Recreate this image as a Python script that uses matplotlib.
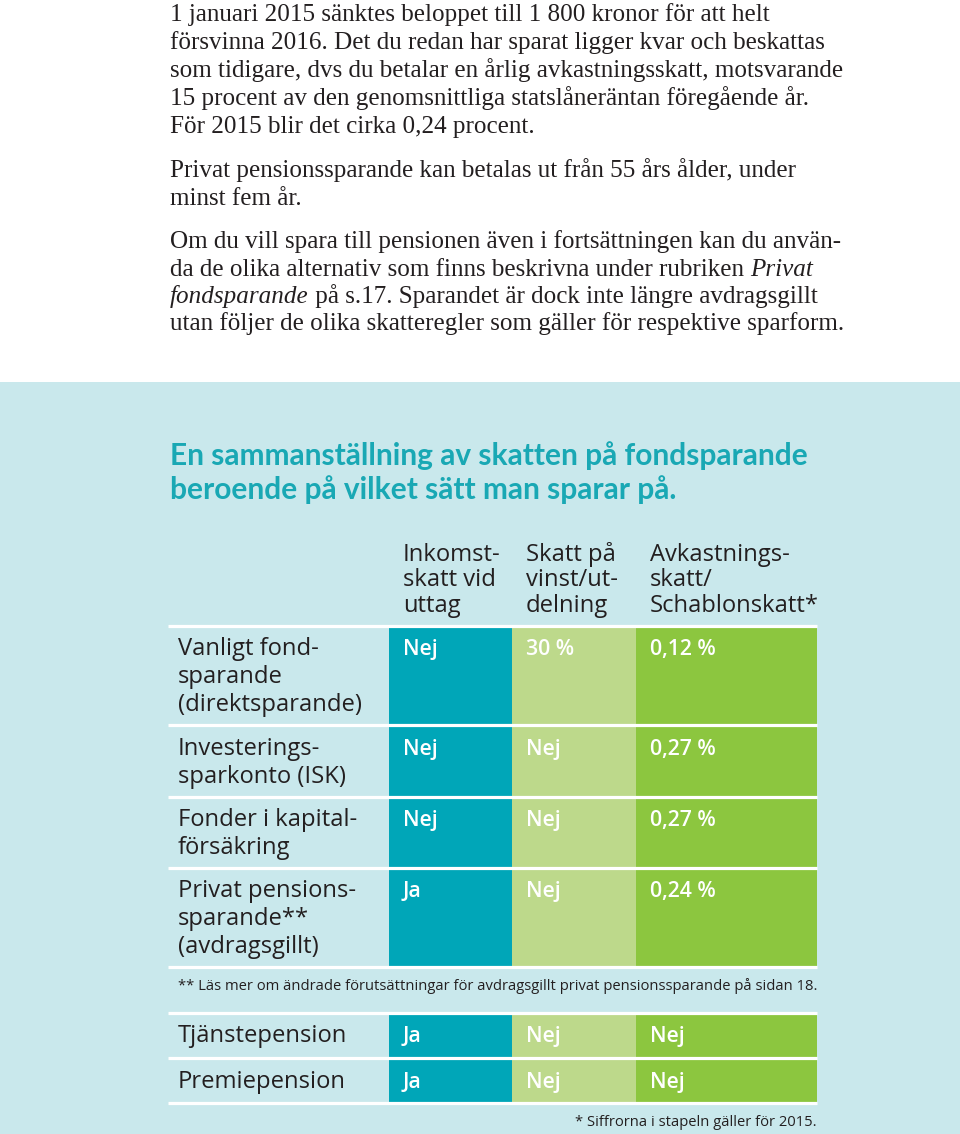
import matplotlib
matplotlib.use("Agg")
import matplotlib.pyplot as plt
from matplotlib.patches import Rectangle

# ---------------- data ----------------
intro_paragraphs = [
    [[("1 januari 2015 sänktes beloppet till 1 800 kronor för att helt", "normal")],
     [("försvinna 2016. Det du redan har sparat ligger kvar och beskattas", "normal")],
     [("som tidigare, dvs du betalar en årlig avkastningsskatt, motsvarande", "normal")],
     [("15 procent av den genomsnittliga statslåneräntan föregående år.", "normal")],
     [("För 2015 blir det cirka 0,24 procent.", "normal")]],
    [[("Privat pensionssparande kan betalas ut från 55 års ålder, under", "normal")],
     [("minst fem år.", "normal")]],
    [[("Om du vill spara till pensionen även i fortsättningen kan du använ-", "normal")],
     [("da de olika alternativ som finns beskrivna under rubriken ", "normal"), ("Privat", "italic")],
     [("fondsparande", "italic"), (" på s.17. Sparandet är dock inte längre avdragsgillt", "normal")],
     [("utan följer de olika skatteregler som gäller för respektive sparform.", "normal")]],
]
title_lines = ["En sammanställning av skatten på fondsparande",
               "beroende på vilket sätt man sparar på."]

col_headers = [["Inkomst-", "skatt vid", "uttag"],
               ["Skatt på", "vinst/ut-", "delning"],
               ["Avkastnings-", "skatt/", "Schablonskatt*"]]

row_labels = [["Vanligt fond-", "sparande", "(direktsparande)"],
              ["Investerings-", "sparkonto (ISK)"],
              ["Fonder i kapital-", "försäkring"],
              ["Privat pensions-", "sparande**", "(avdragsgillt)"]]
inkomstskatt = ["Nej", "Nej", "Nej", "Ja"]
skatt_vinst = ["30 %", "Nej", "Nej", "Nej"]
avkastningsskatt = ["0,12 %", "0,27 %", "0,27 %", "0,24 %"]

pension_labels = [["Tjänstepension"], ["Premiepension"]]
pension_inkomstskatt = ["Ja", "Ja"]
pension_skatt_vinst = ["Nej", "Nej"]
pension_avkastningsskatt = ["Nej", "Nej"]

footnote_2 = "** Läs mer om ändrade förutsättningar för avdragsgillt privat pensionssparande på sidan 18."
footnote_1 = "* Siffrorna i stapeln gäller för 2015."

# ---------------- style ----------------
W, H = 960, 1134
BG_BOX = "#c9e8ec"
TEAL = "#00a6b8"
LIGHT_GREEN = "#bdd98b"
GREEN = "#8cc63f"
TITLE_COL = "#19a8b4"
TXT = "#231f20"
SERIF = ["Liberation Serif", "DejaVu Serif"]
SANS = ["Open Sans", "DejaVu Sans"]
SANS_T = ["Lato", "DejaVu Sans"]

fig = plt.figure(figsize=(W / 100, H / 100), dpi=100)
ax = fig.add_axes([0, 0, 1, 1])
ax.set_xlim(0, W)
ax.set_ylim(H, 0)
ax.axis("off")
renderer = fig.canvas.get_renderer()


def width_px(text, size, family, weight="normal", style="normal"):
    t = ax.text(0, 0, text, fontsize=size, family=family, weight=weight, style=style)
    w = t.get_window_extent(renderer).width
    t.remove()
    return w


def fit(text, target, family, weight="normal", style="normal"):
    return 20 * target / width_px(text, 20, family, weight, style)


# font sizes fitted to widths measured on the reference
fs_par = fit(intro_paragraphs[0][0][0][0], 599, SERIF)
fs_title = fit(title_lines[0], 637, SANS_T, "bold")
fs_tab = fit("(direktsparande)", 182, SANS)
fs_cell = fit("0,12 %", 66, SANS, "semibold")
fs_foot = fit(footnote_2, 637, SANS)

# ---------------- intro text ----------------
par_base = [[21, 49, 77, 105, 133], [177, 205], [248, 276, 303, 330]]
for para, bases in zip(intro_paragraphs, par_base):
    for segs, y in zip(para, bases):
        x = 170
        for s, st in segs:
            t = ax.text(x, y, s, fontsize=fs_par, family=SERIF, style=st,
                        color=TXT, va="baseline", ha="left")
            x += t.get_window_extent(renderer).width

# ---------------- box ----------------
ax.add_patch(Rectangle((0, 382), W, H - 382, color=BG_BOX, zorder=0, lw=0))
for s, y in zip(title_lines, [465, 499]):
    ax.text(170, y, s, fontsize=fs_title, family=SANS_T, weight="bold",
            color=TITLE_COL, va="baseline")

col_x = [389, 512, 636, 817]
col_colors = [TEAL, LIGHT_GREEN, GREEN]
text_dx = 14
pitch = 28

for ci, lines in enumerate(col_headers):
    for li, s in enumerate(lines):
        ax.text(col_x[ci] + text_dx, 561 + li * 25.5, s, fontsize=fs_tab,
                family=SANS, color=TXT, va="baseline")


def draw_block(tops, bottoms, labels, cols):
    for r, (y0, y1) in enumerate(zip(tops, bottoms)):
        for ci in range(3):
            ax.add_patch(Rectangle((col_x[ci], y0), col_x[ci + 1] - col_x[ci], y1 - y0,
                                   color=col_colors[ci], lw=0, zorder=1))
            ax.text(col_x[ci] + text_dx, y0 + 28, cols[ci][r], fontsize=fs_cell,
                    family=SANS, weight="semibold", color="white", va="baseline", zorder=3)
        for li, s in enumerate(labels[r]):
            ax.text(178, y0 + 28 + li * pitch, s, fontsize=fs_tab, family=SANS,
                    color=TXT, va="baseline")
    lines_y = [tops[0] - 1.5] + [b + 1 for b in bottoms]
    ax.hlines(lines_y, 168, 817, color="white", lw=2.3, zorder=2)


draw_block([627, 727, 798, 869], [724, 796, 867, 966], row_labels,
           [inkomstskatt, skatt_vinst, avkastningsskatt])
ax.text(178, 990, footnote_2, fontsize=fs_foot, family=SANS, color=TXT, va="baseline")
draw_block([1014, 1060], [1057, 1102], pension_labels,
           [pension_inkomstskatt, pension_skatt_vinst, pension_avkastningsskatt])
ax.text(817, 1126, footnote_1, fontsize=fs_foot, family=SANS, color=TXT,
        va="baseline", ha="right")

fig.savefig("out.png", dpi=100)
